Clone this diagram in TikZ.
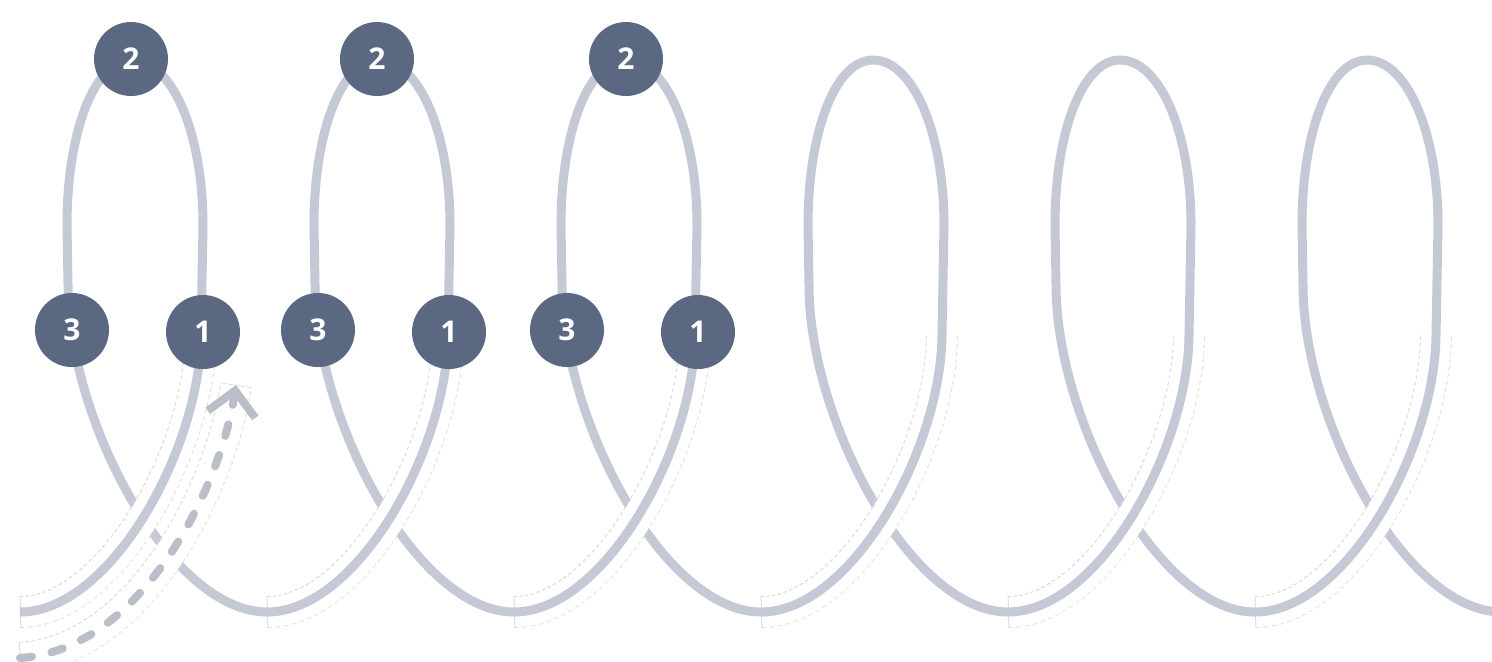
\documentclass[tikz,border=0pt]{standalone}
\usepackage{fontspec}
\setmainfont{Open Sans}
\usepackage{tikz}
\usetikzlibrary{arrows.meta}
\usepackage{xcolor}

\definecolor{coilgray}{HTML}{C4C9D5}
\definecolor{dashgray}{HTML}{B9BEC9}
\definecolor{edgegray}{HTML}{D9DCE2}
\definecolor{slate}{HTML}{5B6882}

\begin{document}
\begin{tikzpicture}[
    x=0.5pt, y=-0.5pt,
    stepdot/.style={circle, fill=slate, text=white, minimum size=37pt, inner sep=0pt,
        font=\fontsize{15}{15}\selectfont\bfseries},
    coil/.style={draw=coilgray, line width=4.5pt},
    halo/.style={draw=white, line width=15pt, shorten <=0.5pt, shorten >=0.5pt},
    haloedge/.style={draw=edgegray, line width=16pt, dash pattern=on 2pt off 1.5pt},
    pathdash/.style={draw=dashgray, line width=4pt, line cap=round, dash pattern=on 6pt off 10pt}
]

    % Frame
    \useasboundingbox (0,0) rectangle (1492,661);
    \clip (0,0) rectangle (1492,661);

    % Define coordinates
    % One set per turn of the coil
    \foreach \k in {0,...,6} {
        \pgfmathsetmacro{\o}{247*\k}
        \coordinate (b\k) at (20+\o,612);
        \coordinate (f\k) at (201+\o,335);
        \coordinate (rt\k) at (203+\o,225);
        \coordinate (t\k) at (132+\o,60);
        \coordinate (lt\k) at (67+\o,225);
        \coordinate (le\k) at (68+\o,285);
    }

    % Arrow ends
    \coordinate (arrowstart) at (20,658);
    \coordinate (arrowend) at (236,385);

    % Back part of each turn
    \foreach \k in {0,...,5} {
        \pgfmathtruncatemacro{\n}{\k+1}
        \draw[coil] (f\k) -- (rt\k)
            .. controls +(0,-92) and +(40,0) .. (t\k)
            .. controls +(-38,0) and +(0,-92) .. (lt\k) -- (le\k)
            .. controls +(0,135) and +(-97,0) .. (b\n);
    }

    % Front part of each turn, on top
    \foreach \k in {0,...,5} {
        \draw[haloedge] (b\k) .. controls +(90,0) and +(-1,115) .. (f\k);
        \draw[halo] (b\k) .. controls +(90,0) and +(-1,115) .. (f\k);
        \draw[coil] (b\k) .. controls +(90,0) and +(-1,115) .. (f\k);
    }

    % Dashed arrow
    \draw[haloedge] (arrowstart) .. controls (140,650) and (220,490) .. (arrowend);
    \draw[halo] (arrowstart) .. controls (140,650) and (220,490) .. (arrowend);
    \draw[pathdash, -{Straight Barb[length=12pt, width=24pt]}]
        (arrowstart) .. controls (140,650) and (220,490) .. (arrowend);

    % Turn 1
    \node[stepdot] (two1) at (131,59) {2};
    \node[stepdot] (three1) at (72,330) {3};
    \node[stepdot] (one1) at (203,332) {1};

    % Turn 2
    \node[stepdot] (two2) at (377,59) {2};
    \node[stepdot] (three2) at (318,330) {3};
    \node[stepdot] (one2) at (449,332) {1};

    % Turn 3
    \node[stepdot] (two3) at (626,59) {2};
    \node[stepdot] (three3) at (567,330) {3};
    \node[stepdot] (one3) at (698,332) {1};
\end{tikzpicture}
\end{document}
